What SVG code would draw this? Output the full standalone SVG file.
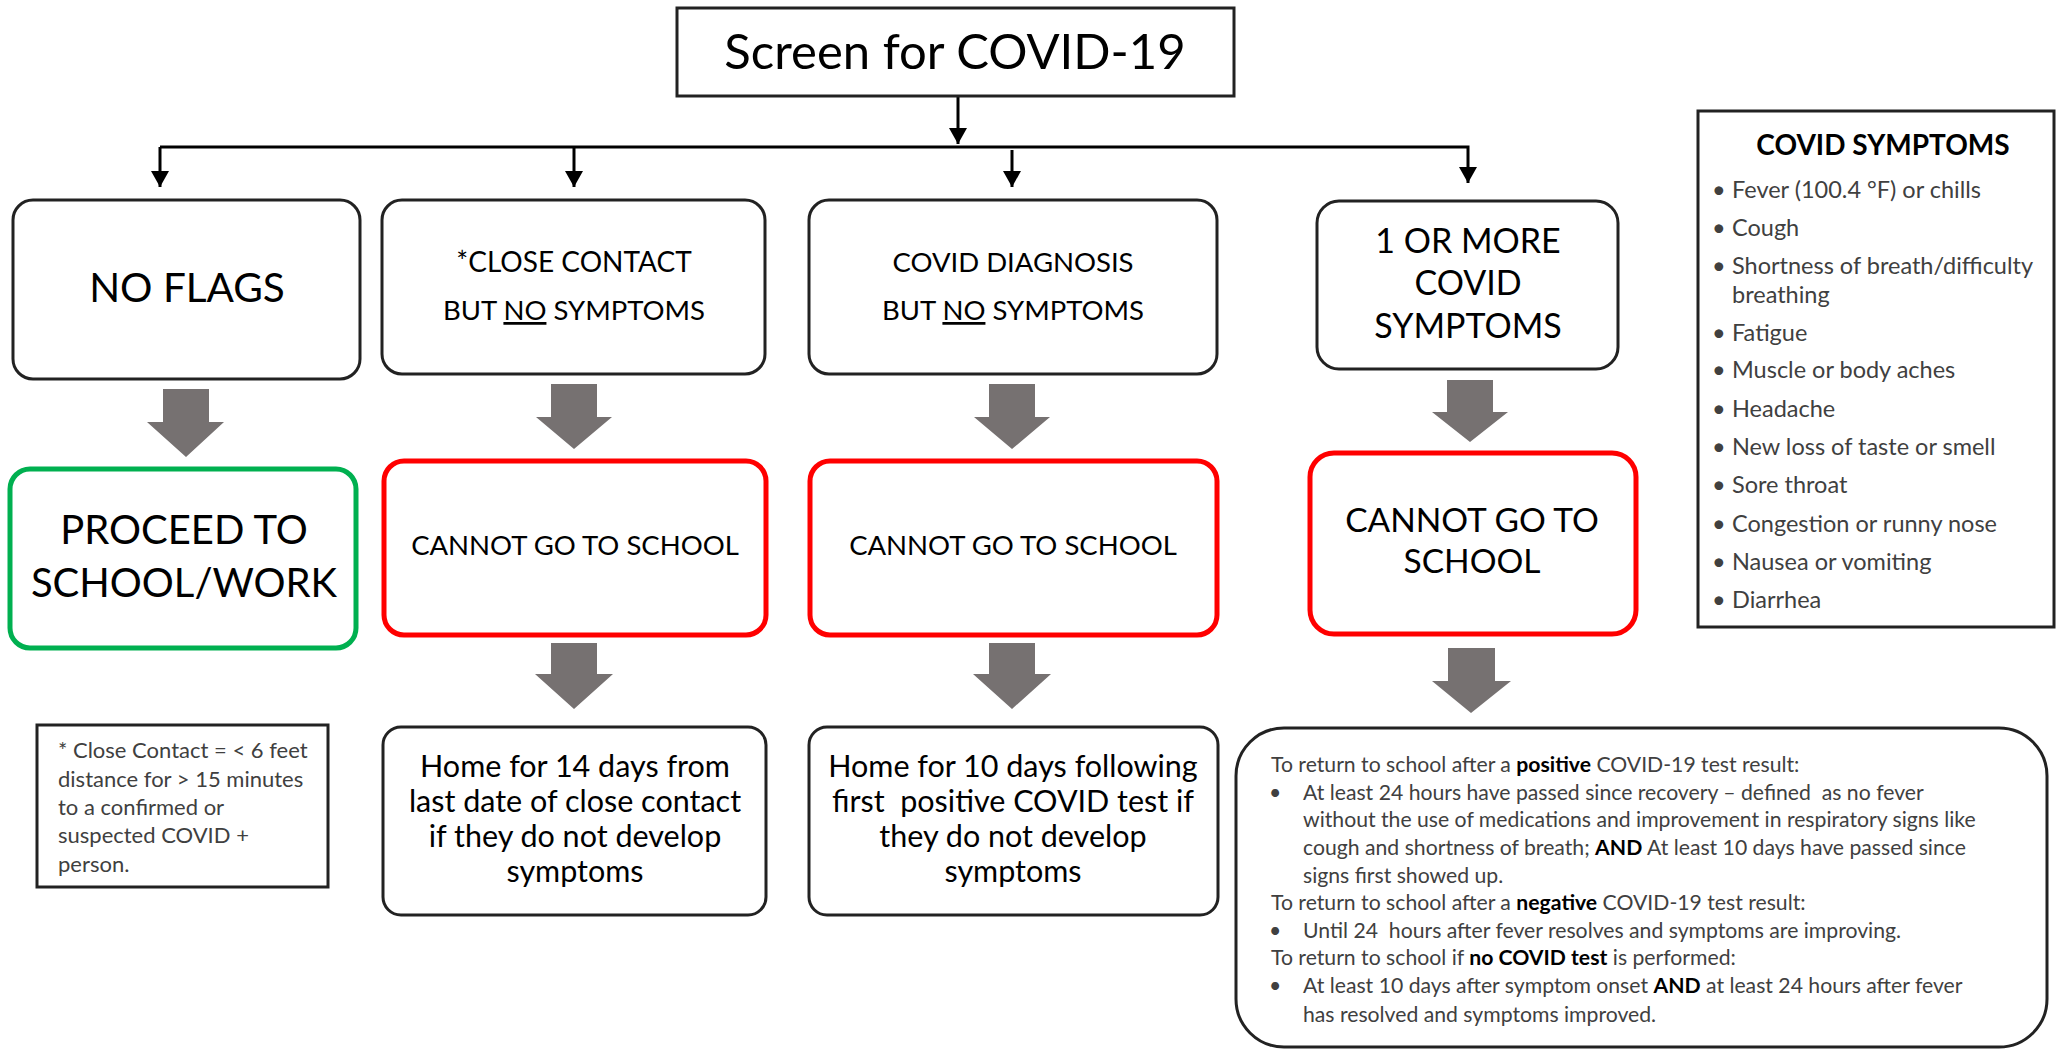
<svg xmlns="http://www.w3.org/2000/svg" width="2059" height="1049" viewBox="0 0 2059 1049">
<defs>
<style>
.t{font-family:Lato,"Liberation Sans",sans-serif;fill:#000}
.g{font-family:Lato,"Liberation Sans",sans-serif;fill:#404040}
.box{fill:#fff;stroke:#222;stroke-width:3}
.red{fill:#fff;stroke:#ff0000;stroke-width:5}
.green{fill:#fff;stroke:#00b050;stroke-width:5}
.blk{fill:#767171}
.conn{fill:none;stroke:#000;stroke-width:3}
.b{font-weight:bold;fill:#000}
</style>
<marker id="ah" markerUnits="userSpaceOnUse" markerWidth="18" markerHeight="18" refX="16" refY="9" orient="auto">
<path d="M0,0 L16,9 L0,18 Z" fill="#000"/>
</marker>
</defs>
<rect width="2059" height="1049" fill="#fff"/>

<g id="connectors">
<path class="conn" d="M958,96 V144" marker-end="url(#ah)"/>
<path class="conn" d="M160,147 H1468 V183" marker-end="url(#ah)"/>
<path class="conn" d="M160,147 V187" marker-end="url(#ah)"/>
<path class="conn" d="M574,147 V187" marker-end="url(#ah)"/>
<path class="conn" d="M1012,150 V187" marker-end="url(#ah)"/>
<path class="blk" d="M163,389 H209 V422 H224 L186,457 L147,422 H163 Z"/>
<path class="blk" d="M551,384 H597 V417 H612 L574,449 L536,417 H551 Z"/>
<path class="blk" d="M989,384 H1035 V417 H1050 L1012,449 L974,417 H989 Z"/>
<path class="blk" d="M1447,380 H1493 V412 H1508 L1470,442 L1432,412 H1447 Z"/>
<path class="blk" d="M551,643 H597 V674 H613 L574,709 L535,674 H551 Z"/>
<path class="blk" d="M989,643 H1035 V674 H1051 L1012,709 L973,674 H989 Z"/>
<path class="blk" d="M1448,648 H1495 V681 H1511 L1471,713 L1432,681 H1448 Z"/>
</g>

<g id="screen">
<rect class="box" x="677" y="8" width="557" height="88"/>
<text class="t" x="955" y="69" font-size="49" text-anchor="middle">Screen for COVID-19</text>
</g>

<g id="no-flags">
<rect class="box" x="13" y="200" width="347" height="179" rx="20"/>
<text class="t" x="187" y="302" font-size="40.5" text-anchor="middle">NO FLAGS</text>
</g>

<g id="close-contact">
<rect class="box" x="382" y="200" width="383" height="174" rx="20"/>
<text class="t" x="574" y="272" font-size="28" text-anchor="middle">*CLOSE CONTACT</text>
<text class="t" x="574" y="320" font-size="27.5" text-anchor="middle">BUT <tspan text-decoration="underline">NO</tspan> SYMPTOMS</text>
</g>

<g id="covid-diagnosis">
<rect class="box" x="809" y="200" width="408" height="174" rx="20"/>
<text class="t" x="1013" y="272" font-size="27.5" text-anchor="middle">COVID DIAGNOSIS</text>
<text class="t" x="1013" y="320" font-size="27.5" text-anchor="middle">BUT <tspan text-decoration="underline">NO</tspan> SYMPTOMS</text>
</g>

<g id="symptoms-node">
<rect class="box" x="1317" y="201" width="301" height="168" rx="22"/>
<text class="t" x="1468" y="253" font-size="34" text-anchor="middle">1 OR MORE</text>
<text class="t" x="1468" y="295" font-size="34" text-anchor="middle">COVID</text>
<text class="t" x="1468" y="338" font-size="34" text-anchor="middle">SYMPTOMS</text>
</g>

<g id="proceed">
<rect class="green" x="10" y="469" width="346" height="179" rx="20"/>
<text class="t" x="184" y="544" font-size="40" text-anchor="middle">PROCEED TO</text>
<text class="t" x="184" y="597" font-size="40" text-anchor="middle">SCHOOL/WORK</text>
</g>

<g id="cannot-1">
<rect class="red" x="384" y="461" width="382" height="174" rx="20"/>
<text class="t" x="575" y="555" font-size="27.5" text-anchor="middle">CANNOT GO TO SCHOOL</text>
</g>

<g id="cannot-2">
<rect class="red" x="810" y="461" width="407" height="174" rx="20"/>
<text class="t" x="1013" y="555" font-size="27.5" text-anchor="middle">CANNOT GO TO SCHOOL</text>
</g>

<g id="cannot-3">
<rect class="red" x="1310" y="453" width="326" height="181" rx="24"/>
<text class="t" x="1472" y="532" font-size="33.5" text-anchor="middle">CANNOT GO TO</text>
<text class="t" x="1472" y="573" font-size="33.5" text-anchor="middle">SCHOOL</text>
</g>

<g id="footnote">
<rect class="box" x="37" y="725" width="291" height="162" stroke-width="3.5"/>
<text class="g" x="58" font-size="22"><tspan x="58" y="758">* Close Contact = &lt; 6 feet</tspan><tspan x="58" y="787">distance for &gt; 15 minutes</tspan><tspan x="58" y="815">to a confirmed or</tspan><tspan x="58" y="843">suspected COVID +</tspan><tspan x="58" y="872">person.</tspan></text>
</g>

<g id="home-14">
<rect class="box" x="383" y="727" width="383" height="188" rx="18"/>
<text class="t" x="575" font-size="30.5" text-anchor="middle"><tspan x="575" y="777">Home for 14 days from</tspan><tspan x="575" y="812">last date of close contact</tspan><tspan x="575" y="847">if they do not develop</tspan><tspan x="575" y="882">symptoms</tspan></text>
</g>

<g id="home-10">
<rect class="box" x="809" y="727" width="409" height="188" rx="18"/>
<text class="t" x="1013" font-size="30.5" text-anchor="middle"><tspan x="1013" y="777">Home for 10 days following</tspan><tspan x="1013" y="812" style="white-space:pre">first  positive COVID test if</tspan><tspan x="1013" y="847">they do not develop</tspan><tspan x="1013" y="882">symptoms</tspan></text>
</g>

<g id="return-rules">
<rect class="box" x="1236" y="728" width="811" height="319" rx="48" stroke-width="2.5"/>
<text class="g" font-size="21.2" style="white-space:pre">
<tspan x="1271" y="772">To return to school after a <tspan class="b">positive</tspan> COVID-19 test result:</tspan>
<tspan x="1269" y="800">•</tspan><tspan x="1303" y="800">At least 24 hours have passed since recovery – defined  as no fever</tspan>
<tspan x="1303" y="827">without the use of medications and improvement in respiratory signs like</tspan>
<tspan x="1303" y="855">cough and shortness of breath; <tspan class="b">AND</tspan> At least 10 days have passed since</tspan>
<tspan x="1303" y="883">signs first showed up.</tspan>
<tspan x="1271" y="910">To return to school after a <tspan class="b">negative</tspan> COVID-19 test result:</tspan>
<tspan x="1269" y="938">•</tspan><tspan x="1303" y="938">Until 24  hours after fever resolves and symptoms are improving.</tspan>
<tspan x="1271" y="965">To return to school if <tspan class="b">no COVID test</tspan> is performed:</tspan>
<tspan x="1269" y="993">•</tspan><tspan x="1303" y="993">At least 10 days after symptom onset <tspan class="b">AND</tspan> at least 24 hours after fever</tspan>
<tspan x="1303" y="1022">has resolved and symptoms improved.</tspan>
</text>
</g>

<g id="covid-symptoms">
<rect class="box" x="1698" y="111" width="356" height="516" stroke-width="3"/>
<text class="t" x="1883" y="155" font-size="28" font-weight="bold" text-anchor="middle">COVID SYMPTOMS</text>
<text class="g" font-size="23.5">
<tspan x="1712" y="198">•</tspan><tspan x="1732" y="198">Fever (100.4 °F) or chills</tspan>
<tspan x="1712" y="236">•</tspan><tspan x="1732" y="236">Cough</tspan>
<tspan x="1712" y="274">•</tspan><tspan x="1732" y="274">Shortness of breath/difficulty</tspan>
<tspan x="1732" y="303">breathing</tspan>
<tspan x="1712" y="341">•</tspan><tspan x="1732" y="341">Fatigue</tspan>
<tspan x="1712" y="378">•</tspan><tspan x="1732" y="378">Muscle or body aches</tspan>
<tspan x="1712" y="417">•</tspan><tspan x="1732" y="417">Headache</tspan>
<tspan x="1712" y="455">•</tspan><tspan x="1732" y="455">New loss of taste or smell</tspan>
<tspan x="1712" y="493">•</tspan><tspan x="1732" y="493">Sore throat</tspan>
<tspan x="1712" y="532">•</tspan><tspan x="1732" y="532">Congestion or runny nose</tspan>
<tspan x="1712" y="570">•</tspan><tspan x="1732" y="570">Nausea or vomiting</tspan>
<tspan x="1712" y="608">•</tspan><tspan x="1732" y="608">Diarrhea</tspan>
</text>
</g>
</svg>
